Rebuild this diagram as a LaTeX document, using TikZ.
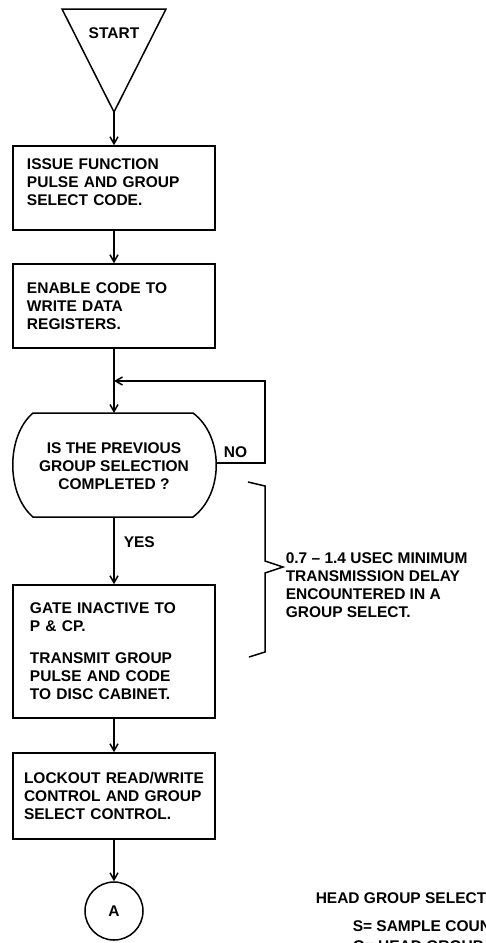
\documentclass[tikz,border=0pt]{standalone}
\usepackage{fontspec}
\setmainfont{Liberation Sans}
\usetikzlibrary{arrows.meta}
\tikzset{box/.style={draw,minimum width=202pt,text width=#1,inner xsep=0pt,align=left},
  box/.default=174pt,
  lbl/.style={inner sep=0pt,align=left}}
\begin{document}
\begin{tikzpicture}[x=1pt,y=-1pt,line width=1.5pt,
    font=\fontsize{15.5}{18}\selectfont\bfseries,
    >={Straight Barb[length=7pt,width=8pt]}]
  \useasboundingbox(0,0)rectangle(485,943);
  \draw(62,9)--(166,9)--(114,112)coordinate(startpt)--cycle;
  \node[lbl](start)at(114,33){START};
  \node[box,minimum height=84pt,text depth=47pt](b1)at(114,188){ISSUE FUNCTION\\PULSE AND GROUP\\SELECT CODE.};
  \node[box,minimum height=84pt](b2)at(114,306){ENABLE CODE TO\\WRITE DATA\\REGISTERS.};
  \draw(33,413)--(193,413)..controls(224,436)and(224,494)..(193,517)
    --(33,517)..controls(6,494)and(6,436)..(33,413)--cycle;
  \coordinate(dN)at(114,413);\coordinate(dS)at(114,517);
  \coordinate(dE)at(216,463);\coordinate(jn)at(114,381);
  \node[lbl,align=center](dec)at(114,466){IS THE PREVIOUS\\GROUP SELECTION\\COMPLETED ?};
  \node[box=168pt,minimum height=133pt](b3)at(114,651.5){GATE INACTIVE TO\\P \& CP.\\[14pt]
    TRANSMIT GROUP\\PULSE AND CODE\\TO DISC CABINET.};
  \node[box=180pt,minimum height=86pt](b4)at(114,796){LOCKOUT READ/WRITE\\CONTROL AND GROUP\\SELECT CONTROL.};
  \node[draw,circle,minimum size=58pt,inner sep=0pt](A)at(114,911){A};
  \draw[->](startpt)--(b1);
  \draw[->](b1)--(b2);
  \draw[->](b2)--(dN);
  \draw[->](dE)--++(49,0)node[lbl,pos=.4,above=5pt](no){NO}|-(jn);
  \draw[->](dS)--(b3)node[lbl,pos=.37,right=9pt](yes){YES};
  \draw[->](b3)--(b4);
  \draw[->](b4)--(A);
  \draw(248,482)--(265,486)--(265,561)--(283,567)--(265,573)--(265,652)--(249,657);
  \node[lbl,anchor=west](note)at(285,585){0.7 -- 1.4 USEC MINIMUM\\TRANSMISSION DELAY\\ENCOUNTERED IN A\\GROUP SELECT.};
  \node[lbl,anchor=west](hgs)at(315,898){HEAD GROUP SELECT CODE};
  \node[lbl,anchor=west](sc)at(352,926){S= SAMPLE COUNTER};
  \node[lbl,anchor=west](gc)at(352,946){G= HEAD GROUP COUNTER};
\end{tikzpicture}
\end{document}
